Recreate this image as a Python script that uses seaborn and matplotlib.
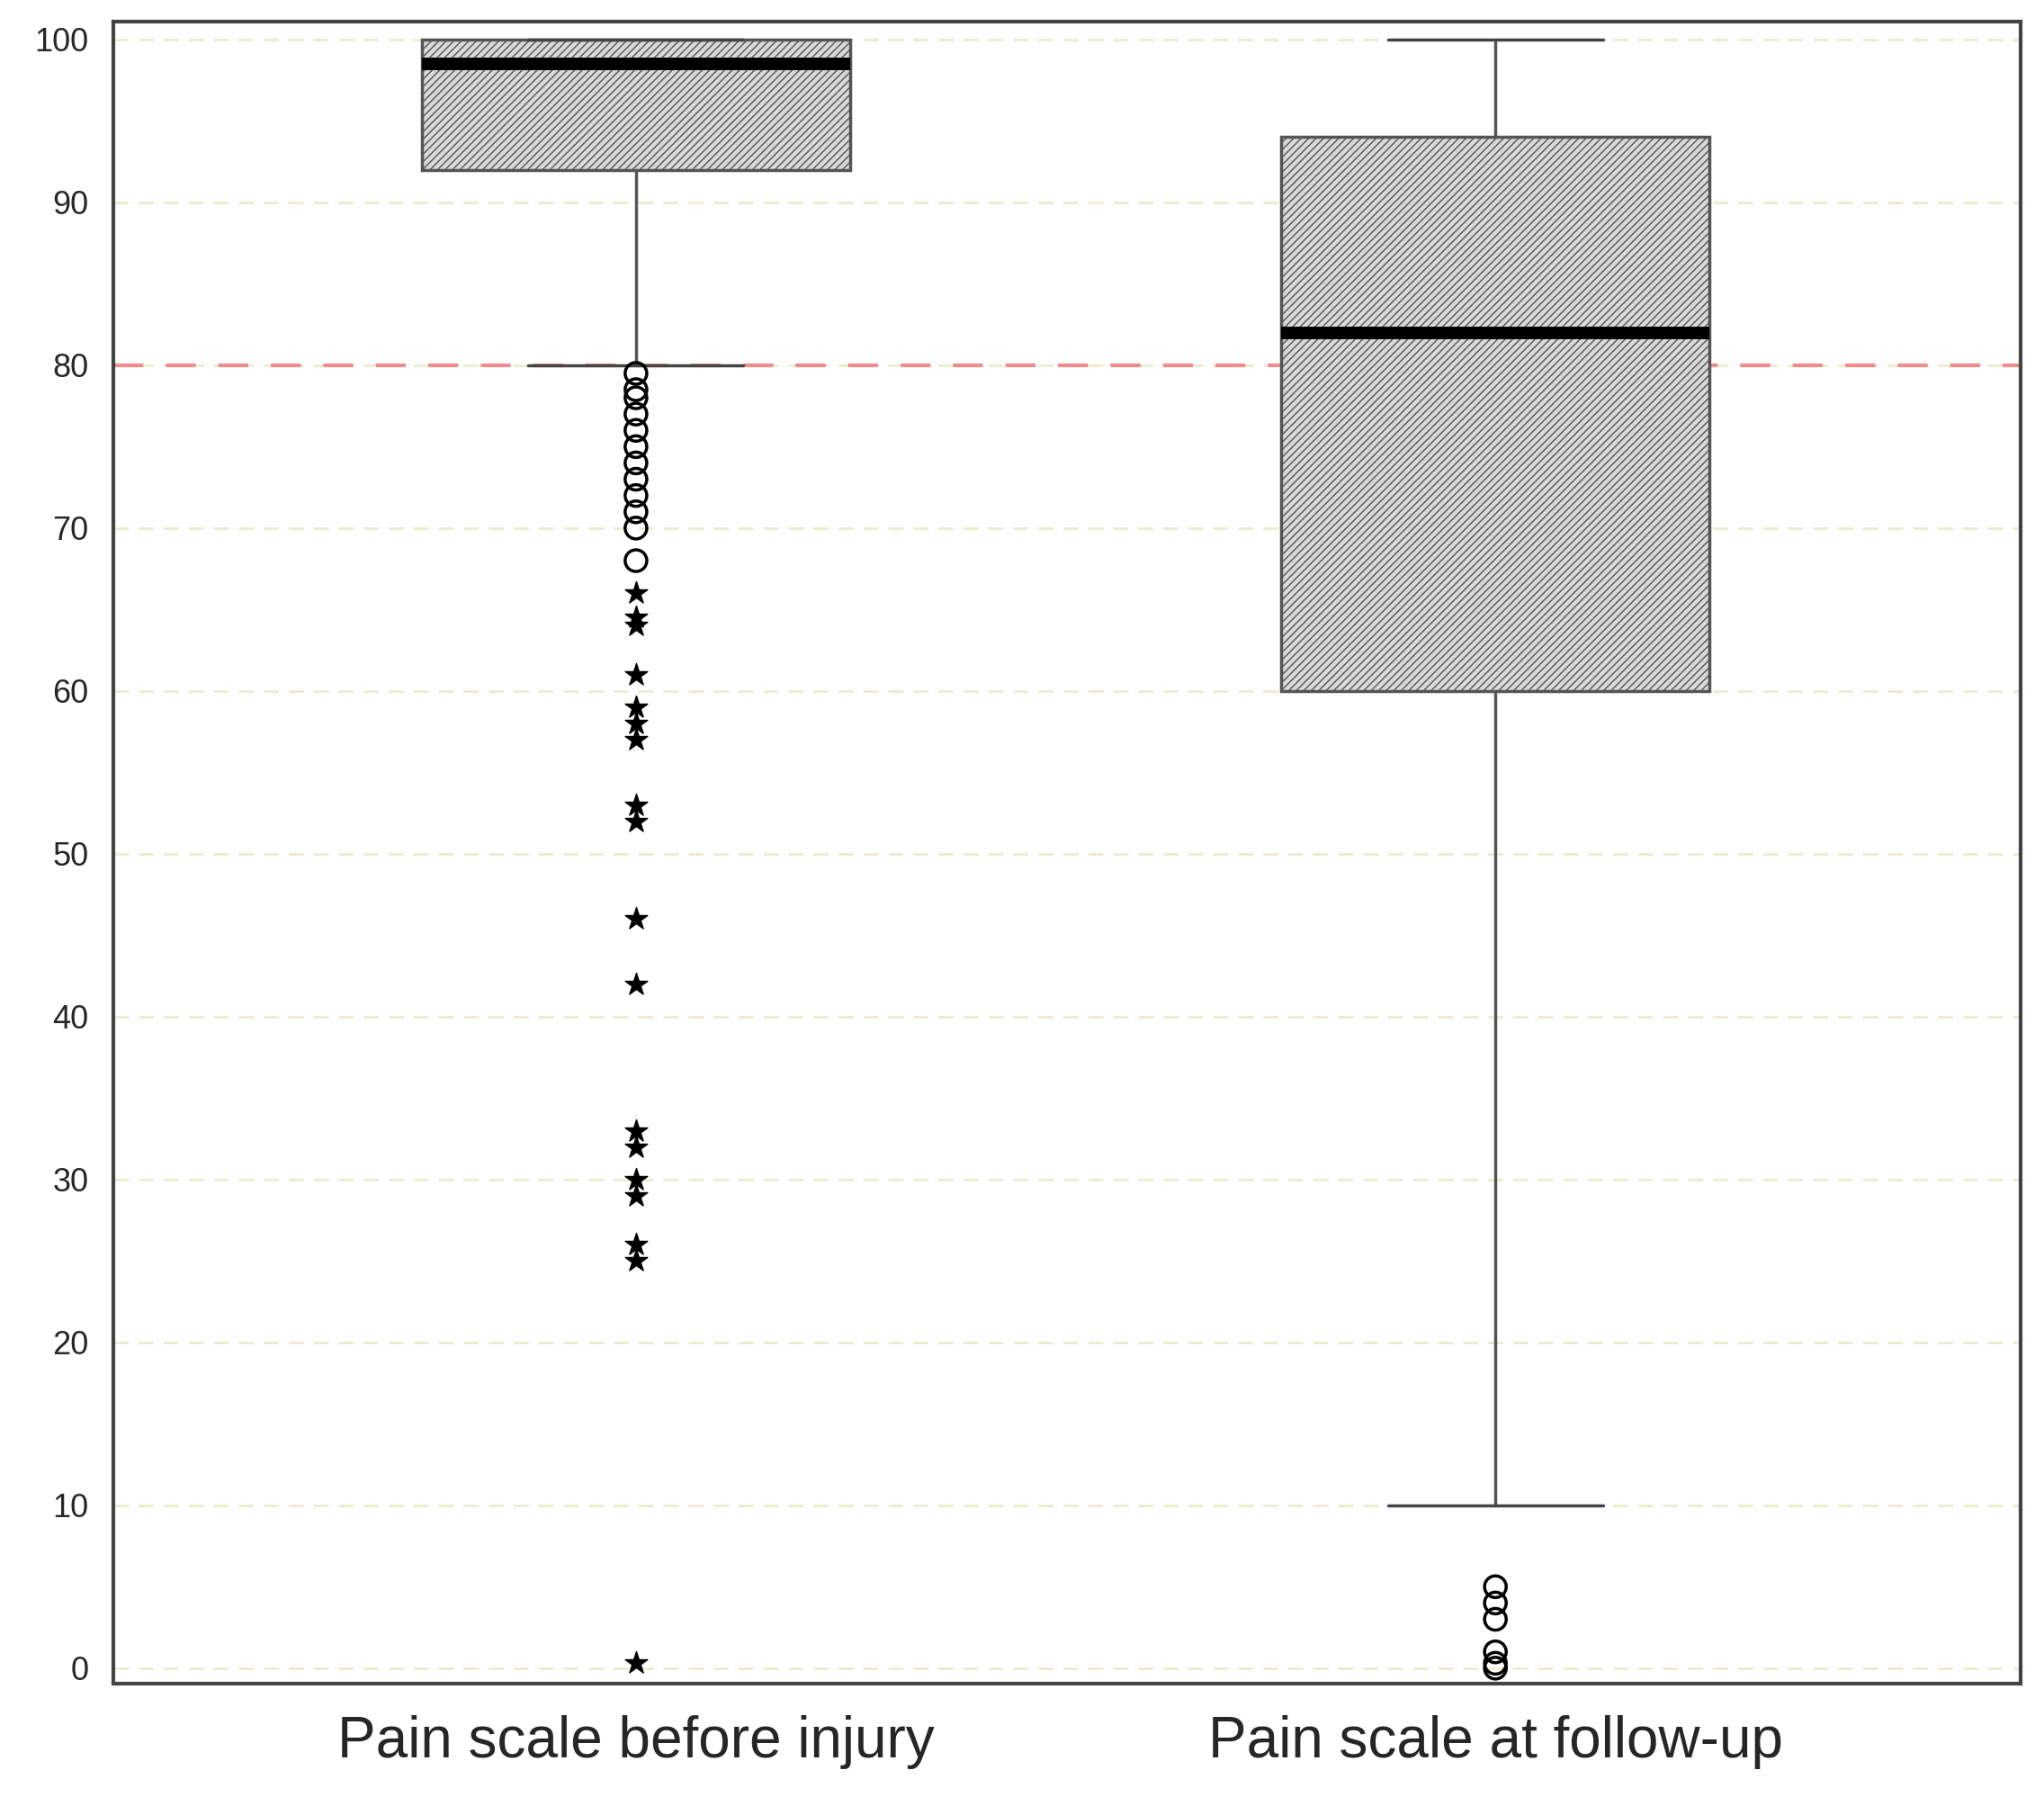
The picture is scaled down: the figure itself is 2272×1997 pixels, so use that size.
import numpy as np
import matplotlib.pyplot as plt
import seaborn as sns

# Summary statistics
groups = ['Pain scale before injury', 'Pain scale at follow-up']
q1 = [92, 60]
medians = [98.5, 82]
q3 = [100, 94]
whisk_lo = [80, 10]
whisk_hi = [100, 100]
# mild outliers (circles) and extreme outliers (stars)
circles = [
    [79.5, 78.5, 78, 77, 76, 75, 74, 73, 72, 71, 70, 68],
    [5, 4, 3, 1, 0.3, 0],
]
stars = [
    [66, 64.5, 64, 61, 59, 58, 57, 53, 52, 46, 42, 33, 32, 30, 29, 26, 25, 0.3],
    [],
]
ref_line = 80
yticks = [0, 10, 20, 30, 40, 50, 60, 70, 80, 90, 100]

sns.set_theme(style='white')
fig = plt.figure(figsize=(22.72, 19.97), dpi=100)
ax = fig.add_axes([0.0555, 0.063, 0.933, 0.925])

stats = []
for i, g in enumerate(groups):
    stats.append(dict(label=g, q1=q1[i], med=medians[i], q3=q3[i],
                      whislo=whisk_lo[i], whishi=whisk_hi[i], fliers=[]))

for y in yticks:
    ax.axhline(y, color='#ecebd0', lw=2, ls=(0, (6, 4)), zorder=0)
ax.axhline(ref_line, color='#f08c8c', lw=3, ls=(0, (8, 6)), zorder=1)

bp = ax.bxp(stats, positions=[0, 1], widths=0.498, patch_artist=True,
            showfliers=False,
            boxprops=dict(facecolor='#d9d9d9', edgecolor='#555555', lw=2.5, hatch='////'),
            medianprops=dict(color='black', lw=10),
            whiskerprops=dict(color='#555555', lw=2.5),
            capprops=dict(color='#444444', lw=2.5),
            capwidths=0.25, zorder=2)

for i in range(len(groups)):
    ax.scatter(np.full(len(circles[i]), i), circles[i], s=300, facecolors='none',
               edgecolors='black', linewidths=2.5, zorder=3)
    if stars[i]:
        ax.scatter(np.full(len(stars[i]), i), stars[i], s=350, marker='*',
                   color='black', zorder=3)

ax.set_xlim(-0.608, 1.611)
ax.set_ylim(-0.96, 101.1)
ax.set_yticks(yticks)
ax.set_yticklabels([str(t) for t in yticks], fontsize=26, fontfamily='Liberation Sans')
ax.set_xticks([0, 1])
ax.set_xticklabels(groups, fontsize=46, fontfamily='Liberation Sans')
ax.tick_params(axis='y', length=0, pad=20)
ax.tick_params(axis='x', length=0, pad=25)
for s in ax.spines.values():
    s.set_color('#444444')
    s.set_linewidth(3)

fig.savefig('out.png', dpi=100)
